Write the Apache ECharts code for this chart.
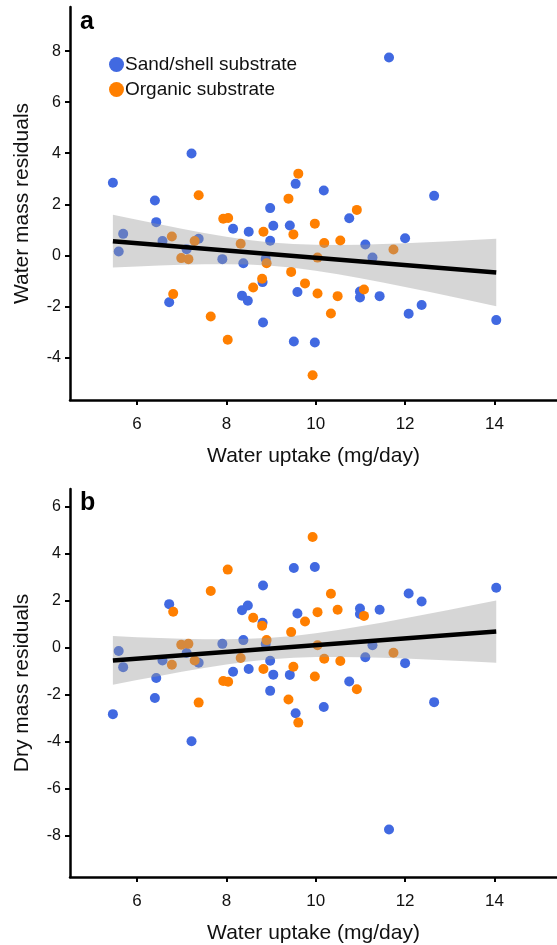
<!DOCTYPE html>
<html>
<head>
<meta charset="utf-8">
<script src="https://cdn.jsdelivr.net/npm/echarts@6/dist/echarts.min.js"></script>
<style>
html,body{margin:0;padding:0;background:#fff;}
#chart{width:557px;height:945px;}
</style>
</head>
<body>
<div id="chart"></div>
<script>
// ---- data ----
var sandX = [5.46,5.59,5.69,6.40,6.43,6.57,6.72,7.11,7.22,7.38,7.91,8.15,8.35,8.38,8.48,8.50,8.81,8.82,8.88,8.98,8.98,9.05,9.42,9.51,9.55,9.59,9.98,10.18,10.75,10.99,10.99,11.11,11.27,11.43,11.64,12.00,12.08,12.37,12.65,14.04];
var sandWaterY = [2.84,0.15,0.84,2.15,1.30,0.56,-1.84,0.24,3.99,0.65,-0.15,1.04,-1.58,-0.31,-1.78,0.92,-1.05,-2.63,-0.14,1.85,0.57,1.16,1.17,-3.38,2.80,-1.44,-3.42,2.54,1.45,-1.42,-1.65,0.42,-0.09,-1.60,7.75,0.67,-2.29,-1.95,2.33,-2.54];
var sandDryY = [-2.84,-0.15,-0.84,-2.15,-1.30,-0.56,1.84,-0.24,-3.99,-0.65,0.15,-1.04,1.58,0.31,1.78,-0.92,1.05,2.63,0.14,-1.85,-0.57,-1.16,-1.17,3.38,-2.80,1.44,3.42,-2.54,-1.45,1.42,1.65,-0.42,0.09,1.60,-7.75,-0.67,2.29,1.95,-2.33,2.54];

var orgX = [6.78,6.81,6.99,7.15,7.29,7.38,7.65,7.93,8.03,8.04,8.32,8.60,8.80,8.83,8.90,9.39,9.45,9.50,9.61,9.76,9.93,9.98,10.04,10.04,10.19,10.34,10.49,10.55,10.92,11.08,11.74];
var orgWaterY = [0.74,-1.52,-0.11,-0.15,0.56,2.35,-2.40,1.43,-3.31,1.46,0.45,-1.26,-0.92,0.92,-0.31,2.22,-0.65,0.82,3.20,-1.10,-4.70,1.24,-0.09,-1.50,0.48,-2.28,-1.60,0.58,1.78,-1.34,0.23];
var orgDryY = [-0.74,1.52,0.11,0.15,-0.56,-2.35,2.40,-1.43,3.31,-1.46,-0.45,1.26,0.92,-0.92,0.31,-2.22,0.65,-0.82,-3.20,1.10,4.70,-1.24,0.09,1.50,-0.48,2.28,1.60,-0.58,-1.78,1.34,-0.23];

var fitX = [5.46,14.04];
var waterFitY = [0.555,-0.675];
var dryFitY = [-0.555,0.675];

var bandX = [5.46,6,6.5,7,7.5,8,8.5,9,9.5,10,10.5,11,11.5,12,12.5,13,13.5,14.04];
var waterBandUpper = [1.59,1.392,1.213,1.040,0.877,0.728,0.601,0.503,0.440,0.409,0.404,0.418,0.442,0.475,0.513,0.555,0.599,0.650];
var waterBandLower = [-0.48,-0.436,-0.401,-0.372,-0.351,-0.346,-0.363,-0.409,-0.488,-0.601,-0.740,-0.896,-1.064,-1.241,-1.421,-1.607,-1.795,-2.000];
var dryBandUpper = [0.48,0.436,0.401,0.372,0.351,0.346,0.363,0.409,0.488,0.601,0.740,0.896,1.064,1.241,1.421,1.607,1.795,2.000];
var dryBandLower = [-1.59,-1.392,-1.213,-1.040,-0.877,-0.728,-0.601,-0.503,-0.440,-0.409,-0.404,-0.418,-0.442,-0.475,-0.513,-0.555,-0.599,-0.650];

var xTicks = [6,8,10,12,14];
var waterYTicks = [-4,-2,0,2,4,6,8];
var dryYTicks = [-8,-6,-4,-2,0,2,4,6];

var seriesNames = ['Sand/shell substrate','Organic substrate'];
var xName = 'Water uptake (mg/day)';
var waterYName = 'Water mass residuals';
var dryYName = 'Dry mass residuals';
var panelLabels = ['a','b'];

// ---- styling ----
var FONT = "'Liberation Sans', Arial, Helvetica, sans-serif";
var BLUE = '#4169E1';
var ORANGE = '#FF7F00';
var BAND = 'rgba(153,153,153,0.4)';

function zip(xs, ys){ return xs.map(function(x,i){ return [x, ys[i]]; }); }
function bandData(xs, lo, up){ return xs.map(function(x,i){ return [x, lo[i], up[i]]; }); }

function makeX(gridIndex){
  return {
    type:'value', gridIndex:gridIndex, min:4.5, max:15.4,
    name:xName, nameLocation:'middle', nameGap:46,
    nameTextStyle:{fontFamily:FONT,fontSize:21,color:'#111'},
    splitLine:{show:false},
    axisLine:{show:true,onZero:false,lineStyle:{color:'#000',width:2.5}},
    axisTick:{show:true,length:5,lineStyle:{color:'#000',width:2},customValues:xTicks},
    axisLabel:{fontFamily:FONT,fontSize:17,color:'#111',margin:16,customValues:xTicks}
  };
}
function makeY(gridIndex, min, max, ticks, name){
  return {
    type:'value', gridIndex:gridIndex, min:min, max:max,
    name:name, nameLocation:'middle', nameGap:37, nameRotate:90,
    nameTextStyle:{fontFamily:FONT,fontSize:21,color:'#111'},
    splitLine:{show:false},
    axisLine:{show:true,onZero:false,lineStyle:{color:'#000',width:2.5}},
    axisTick:{show:true,length:5,lineStyle:{color:'#000',width:2},customValues:ticks},
    axisLabel:{fontFamily:FONT,fontSize:16,color:'#111',margin:9,customValues:ticks}
  };
}
function scatter(name, color, xi, data){
  return {type:'scatter', name:name, xAxisIndex:xi, yAxisIndex:xi, data:data,
    symbol:'circle', symbolSize:10, itemStyle:{color:color,opacity:1}, z:2, silent:true};
}
function band(xi, data){
  return {type:'custom', xAxisIndex:xi, yAxisIndex:xi, data:data, z:3, silent:true,
    encode:{x:0,y:[1,2]},
    renderItem:function(params, api){
      if(params.dataIndex !== 0) return null;
      var pts = [];
      for(var i=0;i<data.length;i++){ pts.push(api.coord([data[i][0], data[i][2]])); }
      for(var j=data.length-1;j>=0;j--){ pts.push(api.coord([data[j][0], data[j][1]])); }
      return {type:'polygon', shape:{points:pts}, style:{fill:BAND, stroke:null}};
    }
  };
}
function fit(xi, data){
  return {type:'line', xAxisIndex:xi, yAxisIndex:xi, data:data, symbol:'none',
    lineStyle:{color:'#000',width:4.5}, z:4, silent:true};
}

var chart = echarts.init(document.getElementById('chart'), null, {renderer:'canvas'});
chart.setOption({
  animation:false,
  backgroundColor:'#fff',
  grid:[
    {left:70, right:0, top:7, height:393},
    {left:70, right:0, top:489, height:392}
  ],
  xAxis:[makeX(0), makeX(1)],
  yAxis:[makeY(0,-5.67,9.73,waterYTicks,waterYName), makeY(1,-9.77,6.74,dryYTicks,dryYName)],
  legend:{
    data:[{name:seriesNames[0],icon:'circle'},{name:seriesNames[1],icon:'circle'}],
    orient:'vertical', left:104, top:50, itemWidth:15, itemHeight:15, itemGap:6,
    textStyle:{fontFamily:FONT,fontSize:19,color:'#111',padding:[0,0,0,-4]},
    selectedMode:false
  },
  graphic:[
    {type:'text', left:80, top:10, style:{text:panelLabels[0], font:"bold 25px "+FONT, fill:'#000'}},
    {type:'text', left:80, top:491, style:{text:panelLabels[1], font:"bold 25px "+FONT, fill:'#000'}}
  ],
  series:[
    scatter(seriesNames[0], BLUE, 0, zip(sandX, sandWaterY)),
    scatter(seriesNames[1], ORANGE, 0, zip(orgX, orgWaterY)),
    band(0, bandData(bandX, waterBandLower, waterBandUpper)),
    fit(0, zip(fitX, waterFitY)),
    scatter(seriesNames[0], BLUE, 1, zip(sandX, sandDryY)),
    scatter(seriesNames[1], ORANGE, 1, zip(orgX, orgDryY)),
    band(1, bandData(bandX, dryBandLower, dryBandUpper)),
    fit(1, zip(fitX, dryFitY))
  ]
});
</script>
</body>
</html>
